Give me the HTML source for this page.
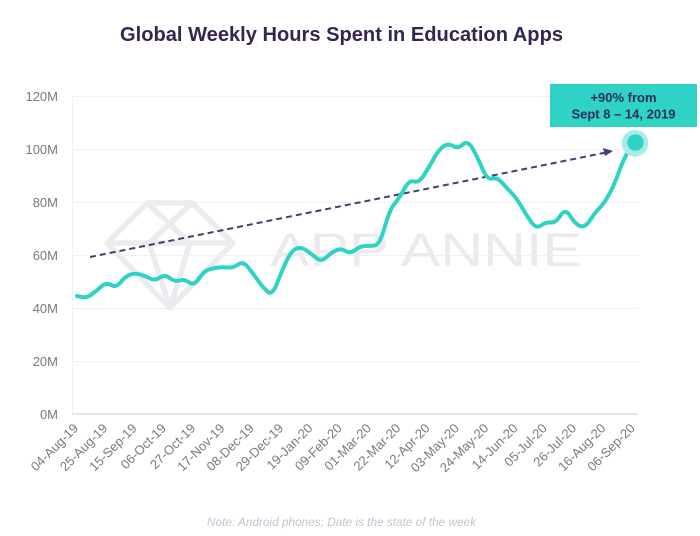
<!DOCTYPE html>
<html>
<head>
<meta charset="utf-8">
<style>
html,body{margin:0;padding:0;background:#ffffff;}
svg{display:block;}
text{font-family:"Liberation Sans",sans-serif;}
</style>
</head>
<body>
<svg width="700" height="536" viewBox="0 0 700 536" xmlns="http://www.w3.org/2000/svg">
  <rect width="700" height="536" fill="#ffffff"/>
  <!-- Title -->
  <text x="120" y="41" font-size="20" font-weight="bold" fill="#36254f" textLength="443" lengthAdjust="spacingAndGlyphs">Global Weekly Hours Spent in Education Apps</text>

  <!-- Gridlines -->
  <g stroke="#f1f1f3" stroke-width="1">
    <line x1="72" y1="96.5" x2="638" y2="96.5"/>
    <line x1="72" y1="149.5" x2="638" y2="149.5"/>
    <line x1="72" y1="202.5" x2="638" y2="202.5"/>
    <line x1="72" y1="255.5" x2="638" y2="255.5"/>
    <line x1="72" y1="308.5" x2="638" y2="308.5"/>
    <line x1="72" y1="361.5" x2="638" y2="361.5"/>
    <line x1="72.5" y1="96" x2="72.5" y2="414"/>
  </g>
  <line x1="72" y1="414" x2="638" y2="414" stroke="#e6e6ea" stroke-width="2"/>

  <!-- Y labels -->
  <g font-size="13" fill="#7a7a7a" text-anchor="end">
    <text x="58" y="101">120M</text>
    <text x="58" y="154">100M</text>
    <text x="58" y="207">80M</text>
    <text x="58" y="260">60M</text>
    <text x="58" y="313">40M</text>
    <text x="58" y="366">20M</text>
    <text x="58" y="419">0M</text>
  </g>

  <!-- Watermark -->
  <g fill="none" stroke="#ececf0" stroke-width="5.5" stroke-linejoin="round">
    <polygon points="147,203 192,203 233,243 170,308 107,243"/>
    <line x1="107" y1="243" x2="233" y2="243"/>
    <line x1="147" y1="203" x2="190" y2="243"/>
    <line x1="192" y1="203" x2="149" y2="243"/>
    <line x1="149" y1="243" x2="170" y2="308"/>
    <line x1="190" y1="243" x2="170" y2="308"/>
  </g>
  <text x="270" y="266" font-size="47" fill="#ebebef" textLength="312" lengthAdjust="spacingAndGlyphs">APP ANNIE</text>

  <!-- Dashed arrow -->
  <line x1="90" y1="257" x2="606" y2="152.5" stroke="#3d4270" stroke-width="2" stroke-dasharray="6,4"/>
  <polygon points="613,151 603,148 605,156" fill="#3d4270"/>

  <!-- Series -->
  <path fill="none" stroke="#2fd3c5" stroke-width="4" stroke-linejoin="round" stroke-linecap="round"
    d="M76.9,296 L81.8,297
       Q86.7,298 91.55,294.5
       Q96.4,291 101.3,286.5
       Q106.2,282 111.1,285
       Q116,288 120.85,282
       Q125.7,276 130.6,274.5
       Q135.5,273 140.4,274.5
       Q145.3,276 150.2,278.5
       Q155.1,281 159.95,277.5
       Q164.8,274 169.7,278
       Q174.6,282 179.5,280.5
       Q184.4,279 189.25,282.5
       Q194.1,286 199,278.5
       Q203.9,271 208.8,269.5
       Q213.7,268 218.55,267.5
       Q223.4,267 228.3,267.5
       Q233.2,268 238.1,264.5
       Q243,261 247.85,267
       Q252.7,273 257.6,280
       Q262.5,287 267.4,291.5
       Q272.3,296 277.2,283
       Q282.1,270 286.95,260
       Q291.8,250 296.7,248.5
       Q301.6,247 306.5,250.5
       Q311.4,254 316.25,258
       Q321.1,262 326,257.5
       Q330.9,253 335.8,250.5
       Q340.7,248 345.55,251
       Q350.4,254 355.3,250
       Q360.2,246 365.1,246
       Q370,246 374.85,245.5
       Q379.7,245 384.6,227.5
       Q389.5,210 394.4,204
       Q399.3,198 404.2,189
       Q409.1,180 413.95,181.5
       Q418.8,183 423.7,175.5
       Q428.6,168 433.5,159
       Q438.4,150 443.25,146.5
       Q448.1,143 453,146
       Q457.9,149 462.8,144.5
       Q467.7,140 472.55,148.5
       Q477.4,157 482.3,168.5
       Q487.2,180 492.1,178.5
       Q497,177 501.85,182.5
       Q506.7,188 511.6,193
       Q516.5,198 521.4,206.5
       Q526.3,215 531.2,222
       Q536.1,229 540.95,225.5
       Q545.8,222 550.7,222.5
       Q555.6,223 560.5,215.5
       Q565.4,208 570.25,216
       Q575.1,224 580,226
       Q584.9,228 589.8,220.5
       Q594.7,213 599.55,208
       Q604.4,203 609.3,194
       Q614.2,185 619.1,171.5
       Q624,158 628.9,150.5
       L633.8,143"/>

  <!-- End dot -->
  <circle cx="635" cy="143.3" r="13.3" fill="#a9ebe6"/>
  <circle cx="635.5" cy="142.5" r="8.3" fill="#2fd3c5"/>

  <!-- Callout -->
  <rect x="550" y="84" width="147" height="43" fill="#2fd3c5"/>
  <g font-size="13" font-weight="bold" fill="#2b2e5c" text-anchor="middle">
    <text x="623.5" y="102">+90% from</text>
    <text x="623.5" y="118.5">Sept 8 – 14, 2019</text>
  </g>

  <!-- X labels -->
  <g font-size="13" fill="#7a7a7a" text-anchor="end">
    <text transform="translate(79,429) rotate(-45)">04-Aug-19</text>
    <text transform="translate(108.3,429) rotate(-45)">25-Aug-19</text>
    <text transform="translate(137.6,429) rotate(-45)">15-Sep-19</text>
    <text transform="translate(166.9,429) rotate(-45)">06-Oct-19</text>
    <text transform="translate(196.2,429) rotate(-45)">27-Oct-19</text>
    <text transform="translate(225.5,429) rotate(-45)">17-Nov-19</text>
    <text transform="translate(254.8,429) rotate(-45)">08-Dec-19</text>
    <text transform="translate(284.1,429) rotate(-45)">29-Dec-19</text>
    <text transform="translate(313.4,429) rotate(-45)">19-Jan-20</text>
    <text transform="translate(342.7,429) rotate(-45)">09-Feb-20</text>
    <text transform="translate(372,429) rotate(-45)">01-Mar-20</text>
    <text transform="translate(401.3,429) rotate(-45)">22-Mar-20</text>
    <text transform="translate(430.6,429) rotate(-45)">12-Apr-20</text>
    <text transform="translate(459.9,429) rotate(-45)">03-May-20</text>
    <text transform="translate(489.2,429) rotate(-45)">24-May-20</text>
    <text transform="translate(518.5,429) rotate(-45)">14-Jun-20</text>
    <text transform="translate(547.8,429) rotate(-45)">05-Jul-20</text>
    <text transform="translate(577.1,429) rotate(-45)">26-Jul-20</text>
    <text transform="translate(606.4,429) rotate(-45)">16-Aug-20</text>
    <text transform="translate(635.7,429) rotate(-45)">06-Sep-20</text>
  </g>

  <!-- Note -->
  <text x="207" y="526" font-size="11.5" font-style="italic" fill="#c3c4d2" textLength="269" lengthAdjust="spacingAndGlyphs">Note: Android phones; Date is the state of the week</text>
</svg>
</body>
</html>
